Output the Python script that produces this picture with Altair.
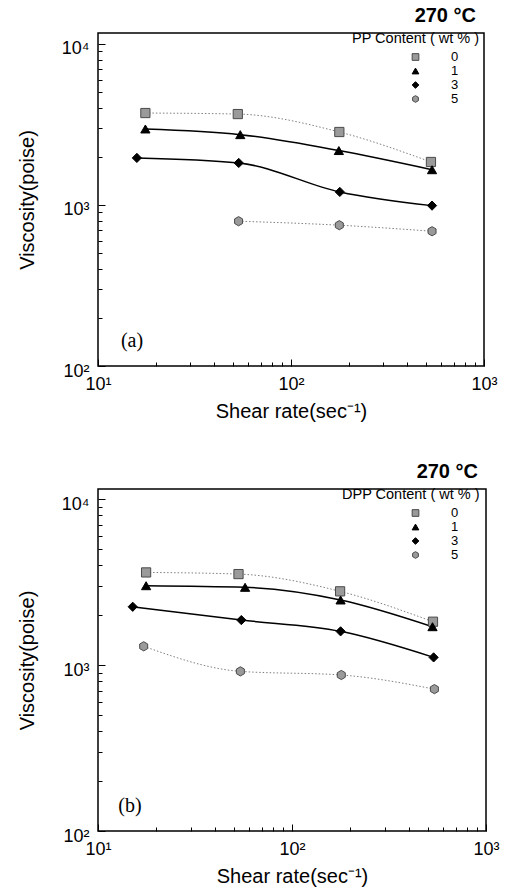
import altair as alt
import pandas as pd

FONT = "Liberation Sans"
contents = ["0", "1", "3", "5"]
dotted_series = ["0", "5"]
solid_series = ["1", "3"]

# ---- panel (a): PP content ----
a_rate = {
    "0": [17.6, 53.0, 178.0, 531.0],
    "1": [17.6, 54.6, 177.0, 538.0],
    "3": [15.9, 53.6, 179.0, 538.0],
    "5": [53.5, 178.0, 538.0],
}
a_visc = {
    "0": [3725, 3670, 2840, 1850],
    "1": [2965, 2735, 2178, 1656],
    "3": [1960, 1824, 1205, 991],
    "5": [793, 749, 687],
}

# ---- panel (b): DPP content ----
b_rate = {
    "0": [17.7, 53.0, 177.0, 533.0],
    "1": [17.7, 57.3, 178.0, 530.0],
    "3": [15.1, 54.8, 178.0, 537.0],
    "5": [17.2, 54.2, 179.5, 542.0],
}
b_visc = {
    "0": [3614, 3532, 2780, 1824],
    "1": [3006, 2939, 2466, 1702],
    "3": [2244, 1866, 1596, 1112],
    "5": [1297, 916, 871, 716],
}

x_major = [10, 100, 1000]
x_minor = [20, 30, 40, 50, 60, 70, 80, 90, 200, 300, 400, 500, 600, 700, 800, 900]
y_major = [100, 1000, 10000]
y_minor = [200, 300, 400, 500, 600, 700, 800, 900,
           2000, 3000, 4000, 5000, 6000, 7000, 8000, 9000]

shapes = ["square", "triangle-up", "diamond",
          "M0,-1L0.866,-0.5L0.866,0.5L0,1L-0.866,0.5L-0.866,-0.5Z"]
fills = ["#9a9a9a", "#000000", "#000000", "#9a9a9a"]
strokes = ["#4a4a4a", "#000000", "#000000", "#4a4a4a"]

label_expr = ("datum.value == 10 ? '10¹' : datum.value == 100 ? '10²' : "
              "datum.value == 1000 ? '10³' : '10⁴'")


def frame(rates, viscs):
    rows = []
    for c in contents:
        for r, v in zip(rates[c], viscs[c]):
            rows.append({"rate": r, "visc": v, "content": c})
    return pd.DataFrame(rows)


def panel(df, legend_title, leg_x, sym_off, tag, tag_x, tag_y, width, height, ytop):
    xs = alt.Scale(type="log", domain=[10, 1000], nice=False)
    ys = alt.Scale(type="log", domain=[100, ytop], nice=False)

    x_lab = alt.Axis(values=x_major, labelExpr=label_expr, ticks=False, domain=False,
                     grid=False, labelFont=FONT, labelFontSize=18, labelColor="black",
                     labelPadding=9, labelFlush=False, titleFont=FONT, titleFontSize=20,
                     titleFontWeight="normal", titleColor="black", titlePadding=8)
    y_lab = alt.Axis(values=y_major, labelExpr=label_expr, ticks=False, domain=False,
                     grid=False, labelFont=FONT, labelFontSize=18, labelColor="black",
                     labelPadding=9, labelFlush=False, labelOffset=5, titleFont=FONT,
                     titleFontSize=20, titleFontWeight="normal", titleColor="black",
                     titlePadding=24)
    x_maj = alt.Axis(values=x_major, labels=False, ticks=True, tickSize=7, offset=-7,
                     domain=False, grid=False, tickColor="black", tickWidth=1,
                     orient="bottom")
    y_maj = alt.Axis(values=y_major, labels=False, ticks=True, tickSize=7, offset=-7,
                     domain=False, grid=False, tickColor="black", tickWidth=1,
                     orient="left")
    x_min = alt.Axis(values=x_minor, labels=False, ticks=True, tickSize=4, offset=-4,
                     domain=False, grid=False, tickColor="black", tickWidth=1,
                     orient="bottom")
    y_min = alt.Axis(values=y_minor, labels=False, ticks=True, tickSize=4, offset=-4,
                     domain=False, grid=False, tickColor="black", tickWidth=1,
                     orient="left")

    leg = alt.Legend(title=legend_title, orient="none", legendX=leg_x, legendY=-1,
                     titleFont=FONT, titleFontSize=14.5, titleFontWeight="normal",
                     titleColor="black", labelFont=FONT, labelFontSize=13,
                     labelColor="black", symbolSize=45, symbolStrokeWidth=1,
                     symbolOffset=sym_off, labelOffset=29, rowPadding=0, titlePadding=4,
                     padding=0)

    dotted = alt.Chart(df).transform_filter(
        alt.FieldOneOfPredicate(field="content", oneOf=dotted_series)
    ).mark_line(interpolate="monotone", color="#808080", strokeDash=[1.5, 2],
                strokeWidth=1).encode(
        x=alt.X("rate:Q", scale=xs, axis=x_lab, title="Shear rate(sec⁻¹)"),
        y=alt.Y("visc:Q", scale=ys, axis=y_lab, title="Viscosity(poise)"),
        detail="content:N",
    )

    solid = alt.Chart(df).transform_filter(
        alt.FieldOneOfPredicate(field="content", oneOf=solid_series)
    ).mark_line(interpolate="monotone", color="black", strokeWidth=1.5).encode(
        x=alt.X("rate:Q", scale=xs, axis=None),
        y=alt.Y("visc:Q", scale=ys, axis=None),
        detail="content:N",
    )

    points = alt.Chart(df).mark_point(filled=True, size=85, strokeWidth=1,
                                      opacity=1).encode(
        x=alt.X("rate:Q", scale=xs, axis=x_maj, title=None),
        y=alt.Y("visc:Q", scale=ys, axis=y_maj, title=None),
        shape=alt.Shape("content:N", scale=alt.Scale(domain=contents, range=shapes),
                        legend=leg),
        fill=alt.Fill("content:N", scale=alt.Scale(domain=contents, range=fills),
                      legend=leg),
        stroke=alt.Stroke("content:N", scale=alt.Scale(domain=contents, range=strokes),
                          legend=leg),
    )

    tag_df = pd.DataFrame({"tx": [tag_x], "ty": [tag_y], "tag": [tag]})
    tag_text = alt.Chart(tag_df).mark_text(font="Liberation Serif", fontSize=20,
                                           align="center", baseline="middle",
                                           color="black").encode(
        x=alt.X("tx:Q", scale=xs, axis=x_min, title=None),
        y=alt.Y("ty:Q", scale=ys, axis=y_min, title=None),
        text="tag:N",
    )

    return alt.layer(dotted, solid, points, tag_text).resolve_axis(
        x="independent", y="independent"
    ).properties(
        width=width, height=height,
        title=alt.TitleParams("270 °C", anchor="end", frame="group", font=FONT,
                              fontSize=20, fontWeight="bold", color="black",
                              dx=-8, offset=6),
    )


df_a = frame(a_rate, a_visc)
df_b = frame(b_rate, b_visc)

pa = panel(df_a, "PP Content ( wt % )", 254, 57, "(a)", 15.0, 143, 386, 333, 11700)
pb = panel(df_b, "DPP Content ( wt % )", 244, 67, "(b)", 14.6, 141, 388, 342, 11500)

chart = alt.vconcat(pa, pb, spacing=39).resolve_scale(
    shape="independent", fill="independent", stroke="independent",
).resolve_legend(
    shape="independent", fill="independent", stroke="independent",
).properties(
    padding={"left": 16, "top": 5, "right": 5, "bottom": 5},
    background="white",
).configure_view(stroke="black", strokeWidth=1.5)

chart.save("out.html", embed_options={"renderer": "svg", "actions": False})
